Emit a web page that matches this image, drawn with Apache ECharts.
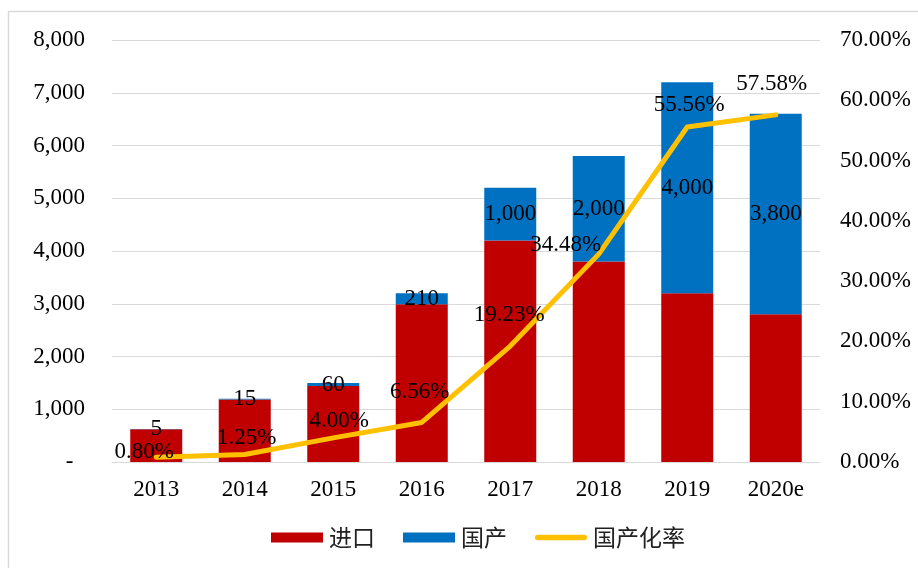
<!DOCTYPE html>
<html>
<head>
<meta charset="utf-8">
<script src="https://cdn.jsdelivr.net/npm/echarts@6/dist/echarts.min.js"></script>
<style>
  html, body { margin: 0; padding: 0; background: #fff; }
  #chart { width: 918px; height: 568px; }
</style>
</head>
<body>
<div id="chart"></div>
<script>
// Years on the category axis
var years = ['2013', '2014', '2015', '2016', '2017', '2018', '2019', '2020e'];
// Imported units (进口)
var imported = [620, 1185, 1440, 2990, 4200, 3800, 3200, 2800];
// Domestic units (国产)
var domestic = [5, 15, 60, 210, 1000, 2000, 4000, 3800];
// Domestic share, percent (国产化率)
var localRate = [0.80, 1.25, 4.00, 6.56, 19.23, 34.48, 55.56, 57.58];

// Label placement for the share line, [dx, dy] from each point
var rateLabelOffset = [[-12, -5], [2, -17], [6, -17], [-2, -30], [-1, -31], [-33, -9], [2, -22], [-4, -31]];

var serif = '"Liberation Serif", "Times New Roman", serif';
var cjk = '"Noto Sans CJK SC", sans-serif';
var fs = 23;

function thousands(v) {
  return String(v).replace(/\B(?=(\d{3})+(?!\d))/g, ',');
}

var chart = echarts.init(document.getElementById('chart'));

chart.setOption({
  animation: false,
  backgroundColor: '#fff',
  graphic: [{
    type: 'rect',
    shape: { x: 8.5, y: 11.5, width: 1000, height: 1000 },
    style: { fill: 'none', stroke: '#d9d9d9', lineWidth: 1.5 },
    silent: true
  }],
  grid: { left: 112, right: 98, top: 40, bottom: 106, containLabel: false },
  legend: {
    bottom: 14,
    left: 266,
    itemGap: 28,
    itemWidth: 52,
    itemHeight: 10,
    textStyle: { fontFamily: cjk, fontSize: 23, color: '#222', padding: [0, 0, 0, 1] },
    data: [
      { name: '进口', icon: 'rect' },
      { name: '国产', icon: 'rect' },
      {
        name: '国产化率',
        icon: 'path://M3,0 L53,0 A3,3 0 0 1 53,6 L3,6 A3,3 0 0 1 3,0 Z',
        itemStyle: { color: '#FFC000' }
      }
    ]
  },
  xAxis: {
    type: 'category',
    data: years,
    axisTick: { show: false },
    axisLine: { lineStyle: { color: '#d9d9d9', width: 1 } },
    axisLabel: { fontFamily: serif, fontSize: fs, color: '#000', margin: 16 }
  },
  yAxis: [{
    type: 'value',
    min: 0, max: 8000, interval: 1000,
    axisLine: { show: false },
    axisTick: { show: false },
    splitLine: { lineStyle: { color: '#d9d9d9', width: 1 } },
    axisLabel: {
      fontFamily: serif, fontSize: fs, color: '#000', margin: 27,
      formatter: function (v) { return v === 0 ? '-  ' : thousands(v); }
    }
  }, {
    type: 'value',
    min: 0, max: 70, interval: 10,
    position: 'right',
    axisLine: { show: false },
    axisTick: { show: false },
    splitLine: { show: false },
    axisLabel: {
      fontFamily: serif, fontSize: fs, color: '#000', margin: 20,
      formatter: function (v) { return v.toFixed(2) + '%'; }
    }
  }],
  series: [{
    name: '进口',
    type: 'bar',
    stack: 'units',
    barWidth: 52,
    itemStyle: { color: '#C00000' },
    data: imported
  }, {
    name: '国产',
    type: 'bar',
    stack: 'units',
    barWidth: 52,
    itemStyle: { color: '#0070C0' },
    label: {
      show: true,
      position: 'inside',
      fontFamily: serif, fontSize: fs, color: '#000',
      formatter: function (p) { return thousands(p.value); }
    },
    data: domestic
  }, {
    name: '国产化率',
    type: 'line',
    yAxisIndex: 1,
    symbol: 'circle',
    symbolSize: 1,
    itemStyle: { color: '#FFC000' },
    lineStyle: { color: '#FFC000', width: 5, cap: 'round', join: 'round' },
    z: 5,
    data: localRate.map(function (v, i) {
      return {
        value: v,
        label: {
          show: true,
          position: 'inside',
          offset: rateLabelOffset[i],
          fontFamily: serif, fontSize: fs, color: '#000',
          formatter: function (p) { return p.value.toFixed(2) + '%'; }
        }
      };
    })
  }]
});
</script>
</body>
</html>
